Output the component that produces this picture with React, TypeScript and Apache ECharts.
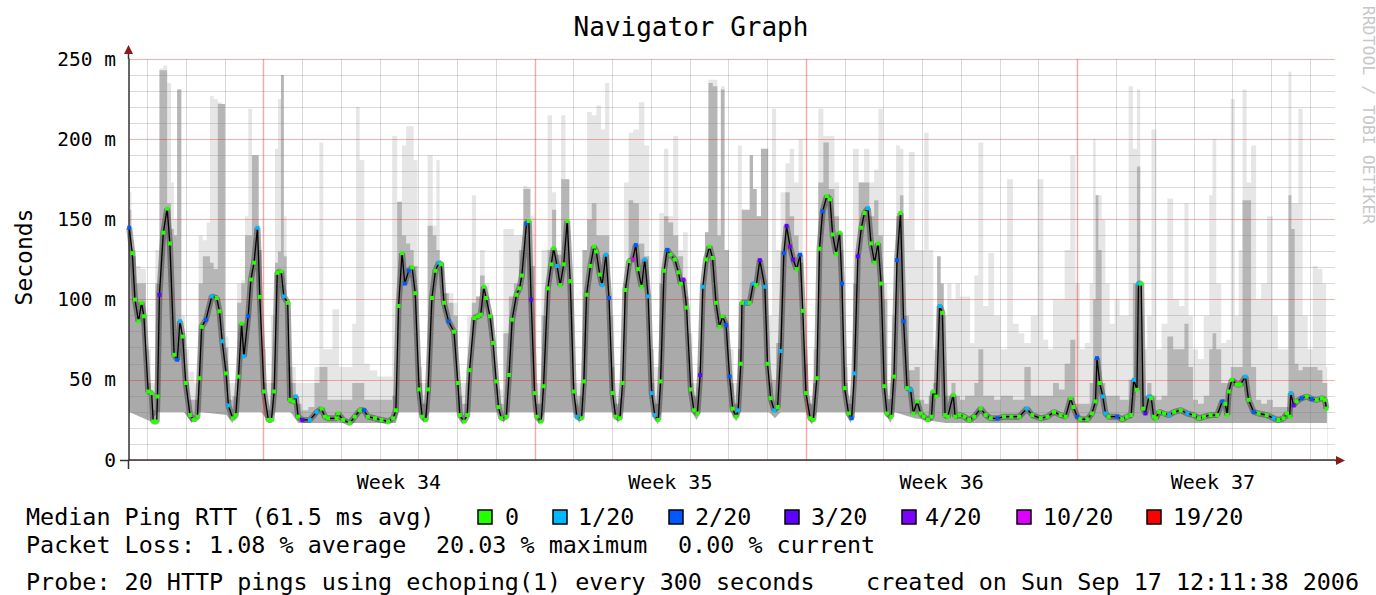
import React, { useEffect, useRef } from 'react';
import * as echarts from 'echarts';

// x = days since Monday 21 Aug 2006 00:00 (start of week 34); values in milliseconds
// median samples: [day, median RTT ms, lost pings of 20]
const median: number[][] = [
  [-3.46,144.8,2],[-3.38,129,0],[-3.31,100,0],[-3.22,86.5,0],[-3.14,98,0],[-3.08,89.6,0],[-2.97,42.7,0],[-2.88,41.7,0],[-2.84,24,0],[-2.75,24,0],[-2.73,39.6,0],[-2.68,103,3],[-2.58,141.7,0],[-2.48,156.7,0],[-2.41,135,0],[-2.30,65.6,0],[-2.22,62.5,2],[-2.15,86.5,1],[-2.08,77,0],[-2.00,48,0],[-1.89,28,0],[-1.79,25,0],[-1.70,27,0],[-1.65,51,0],[-1.59,83,0],[-1.48,87.5,2],[-1.33,102,1],[-1.20,101,0],[-1.13,92.7,0],[-1.06,74,1],[-0.96,54,0],[-0.90,34,1],[-0.79,26,0],[-0.71,28,0],[-0.64,52,0],[-0.56,85,0],[-0.50,64.6,1],[-0.39,89.6,2],[-0.32,112.5,0],[-0.24,123,0],[-0.15,144.8,1],[-0.09,101.7,0],[0.02,42.7,0],[0.13,25,0],[0.21,25,0],[0.28,42.7,0],[0.36,116.7,0],[0.46,117.7,0],[0.53,102,1],[0.63,98,0],[0.69,37.5,0],[0.77,36.5,0],[0.84,39.6,1],[0.90,27,0],[1.01,25,3],[1.20,25,1],[1.38,30,1],[1.50,32,0],
  [1.59,27,0],[1.67,26,0],[1.89,26,0],[1.93,29,0],[2.06,25,0],[2.23,23,0],[2.36,27,0],[2.49,31,0],[2.60,31,2],[2.70,27,0],[2.88,26,0],[3.05,25,0],[3.22,24,0],[3.35,26,0],[3.42,31,0],[3.49,96,0],[3.58,129,0],[3.65,110,2],[3.75,118,2],[3.84,120,0],[3.92,104,0],[4.02,44,0],[4.10,27,0],[4.19,25,0],[4.25,44,0],[4.35,101,0],[4.44,118,0],[4.53,123,1],[4.59,122,0],[4.66,98,0],[4.78,86.5,2],[4.92,80,0],[5.02,48,0],[5.07,28,0],[5.18,24,0],[5.26,28,0],[5.32,56,0],[5.44,88.5,0],[5.54,89.6,0],[5.61,90.6,0],[5.69,108,0],[5.75,101,0],[5.85,89.6,0],[5.93,73,0],[6.01,49,0],[6.07,33,0],[6.14,26,0],[6.27,27,0],[6.34,53,0],[6.42,87.5,0],[6.53,103,0],[6.61,107,0],[6.67,115,0],[6.79,147.5,2],[6.85,149,0],[6.91,100,3],
  [7.00,41.7,0],[7.06,27,0],[7.17,24,0],[7.23,46,0],[7.34,107,0],[7.43,122,0],[7.49,132,0],[7.58,121,1],[7.66,109,0],[7.75,122,0],[7.84,149,0],[7.92,111.5,0],[8.01,42.7,0],[8.09,27,1],[8.21,26,0],[8.27,49,0],[8.34,103,0],[8.44,121,0],[8.53,133,0],[8.59,130,0],[8.68,115.6,0],[8.74,109,1],[8.84,128,1],[8.92,101,2],[9.01,41.7,0],[9.09,27,0],[9.20,26,0],[9.27,48,0],[9.34,106,0],[9.44,124,0],[9.53,125,10],[9.61,134,2],[9.67,119,0],[9.76,108,0],[9.84,125,1],[9.93,102,1],[10.02,41.7,1],[10.10,28,1],[10.19,25,0],[10.25,49,0],[10.34,118,0],[10.42,131,2],[10.51,128,0],[10.62,125,0],[10.71,117,0],[10.77,110,0],[10.84,112.5,4],[10.92,95,0],[11.03,44,0],[11.11,31,0],[11.20,29,0],[11.27,53,3],[11.34,108,1],[11.42,125,0],[11.51,133,0],[11.59,126,0],[11.68,98,0],[11.77,83,0],[11.85,89.6,0],[11.94,84,2],[12.03,52,2],[12.11,32,0],[12.20,27,0],
  [12.25,31,1],[12.32,60,0],[12.35,98,0],[12.46,98,1],[12.55,98,0],[12.64,110,1],[12.72,109,0],[12.81,124.6,3],[12.94,108,1],[13.01,60,0],[13.09,38.5,0],[13.18,31,1],[13.27,33,0],[13.35,68,1],[13.43,129,2],[13.50,146,3],[13.59,133,4],[13.67,125,3],[13.76,119,0],[13.85,128,2],[13.92,93,0],[14.00,41.7,0],[14.11,26,0],[14.19,25,0],[14.28,51,0],[14.35,131.7,0],[14.43,155,2],[14.54,164.6,0],[14.62,162.5,0],[14.69,140.6,0],[14.78,128.5,0],[14.87,141.7,0],[14.93,110,2],[15.00,44.8,0],[15.10,29,0],[15.18,26,2],[15.25,54,1],[15.34,127,3],[15.43,144.8,0],[15.51,154,0],[15.60,157,1],[15.68,135,0],[15.77,123,0],[15.86,135,0],[15.94,110,0],[16.02,46,0],[16.09,29,0],[16.20,27,0],[16.27,52,0],[16.35,124.6,2],[16.44,154,0],[16.52,86.5,2],[16.61,44.8,0],[16.70,43.75,1],[16.77,29,0],[16.87,36.5,0],[16.96,29,0],[17.04,27,0],[17.15,25,0],[17.24,27,0],[17.28,42.7,0],[17.37,39.6,0],[17.45,96,1],[17.52,91.7,0],
  [17.59,28,0],[17.66,27,0],[17.80,40.6,0],[17.85,27,0],[17.96,28,0],[18.09,27,0],[18.21,25,0],[18.34,27,0],[18.51,32,0],[18.64,28,0],[18.77,26,0],[18.94,26,2],[19.11,27,0],[19.30,27,0],[19.50,27,0],[19.70,32,1],[19.84,28,0],[20.06,26,0],[20.23,27,0],[20.40,30,0],[20.57,28,0],[20.70,27,0],[20.83,38.5,0],[20.90,33,0],[21.00,27,2],[21.08,25.4,0],[21.26,25.4,0],[21.38,29,0],[21.47,36.5,0],[21.51,63.5,2],[21.58,48,0],[21.66,39.6,1],[21.73,29,1],[21.81,27,0],[22.03,27,2],[22.16,25.4,0],[22.28,27,0],[22.39,28,0],[22.46,50,1],[22.54,43.75,0],[22.58,110,1],[22.65,110,0],[22.70,32,0],[22.76,29,3],[22.85,39.6,1],[22.91,38.5,0],[22.97,27,0],
  [23.03,26,0],[23.11,30,0],[23.24,29,0],[23.37,28,1],[23.50,30,0],[23.67,31,0],[23.84,29,1],[24.01,28,0],[24.14,26,0],[24.27,27,0],[24.44,28,0],[24.61,28,0],[24.74,36.5,2],[24.82,35,0],[24.87,28,0],[24.91,42.7,0],[24.99,50,0],[25.12,47,0],[25.21,47,0],[25.34,52,1],[25.42,37.5,0],[25.55,30,2],[25.68,29,0],[25.89,28,0],[26.07,26,1],[26.19,25,0],[26.32,26,0],[26.41,29,0],[26.48,27,0],[26.51,41.7,1],[26.58,34,3],[26.66,36.5,0],[26.79,38.5,2],[26.92,39.6,0],[27.05,38,2],[27.18,37.5,0],[27.31,38.5,0],[27.39,37.5,0],[27.43,32,0]
];

// smoke samples: [day, highest ping ms, top of the dense smoke ms]
const smoke: number[][] = [
  [-3.457,167,156],[-3.353,131,127],[-3.224,121,110],[-3.095,119,110],[-2.966,69,48],[-2.837,48,31],[-2.734,131,110],[-2.623,244,243],[-2.537,246,243],[-2.425,235,160],[-2.339,173,144],[-2.279,150,140],[-2.167,231,231],[-2.064,90,79],[-1.978,69,48],[-1.849,55,37.5],[-1.72,48,37.5],[-1.617,140,110],[-1.505,137,127],[-1.419,148,127],[-1.333,227,123],[-1.23,225,119],[-1.118,223,222],[-1.032,222,222],[-0.946,77,70],[-0.86,48,37.5],[-0.731,48,39.6],[-0.619,110,98],[-0.516,112,110],[-0.43,152,140],[-0.344,219,140],[-0.241,190,190],[-0.155,190,190],[-0.086,131,131],[0,69,48],[0.129,48,31],[0.258,90,48],[0.344,194,123],[0.413,225,130],[0.499,240,240],[0.559,152,127],[0.645,69,58],[0.774,58,48],[0.903,48,35],[1.075,48,31],[1.247,48,33],[1.393,58,48],[1.505,198,58],[1.591,69,58],
  [1.72,69,37.5],[1.85,94,37.5],[2.06,58,37.5],[2.23,58,37.5],[2.36,85,48],[2.42,220,48],[2.55,187,48],[2.66,60,37.5],[2.83,56,37.5],[3.05,52,37.5],[3.26,52,37.5],[3.39,202,40],[3.52,161,161],[3.63,196,140],[3.74,208,135],[3.84,208,131],[3.92,187,121],[4.04,58,48],[4.16,48,35],[4.32,190,146],[4.42,146,140],[4.51,187,131],[4.59,123,123],[4.72,104,104],[4.85,104,98],[4.96,98,90],[5.07,48,40],[5.2,48,35],[5.32,90,48],[5.44,165,98],[5.54,102,102],[5.64,131,115],[5.78,110,102],[5.88,90,90],[5.99,48,45],[6.12,44,35],[6.27,144,79],[6.4,144,102],[6.53,140,110],[6.66,140,131],[6.76,171,169],[6.85,170,169],[6.93,152,121],
  [7.09,48,35],[7.26,131,90],[7.41,215,131],[7.49,167,156],[7.62,131,128],[7.75,215,175],[7.84,175,175],[7.95,110,100],[8.05,48,35],[8.18,48,40],[8.29,131,131],[8.42,217,150],[8.53,215,160],[8.66,221,140],[8.77,206,140],[8.87,235,140],[8.98,90,58],[9.13,48,35],[9.24,48,38],[9.37,173,110],[9.48,204,162],[9.61,206,160],[9.77,223,135],[9.89,196,127],[10.02,69,48],[10.15,58,35],[10.28,154,110],[10.39,194,152],[10.51,152,148],[10.64,202,140],[10.77,131,127],[10.89,142,102],[11.01,79,48],[11.14,48,40],[11.27,58,45],[11.35,110,110],[11.44,142,142],[11.53,237,235],[11.66,237,233],[11.77,150,140],[11.84,233,231],[11.96,131,131],[12.07,69,48],[12.2,48,35],
  [12.29,196,69],[12.4,156,156],[12.51,156,156],[12.59,190,190],[12.68,169,169],[12.78,152,152],[12.9,194,194],[12.98,194,194],[13.07,90,48],[13.18,219,50],[13.28,131,73],[13.41,167,130],[13.53,185,167],[13.63,194,152],[13.76,173,140],[13.86,200,123],[13.98,69,60],[14.11,40,35],[14.25,69,48],[14.39,219,173],[14.51,202,198],[14.67,202,169],[14.8,173,152],[14.91,142,131],[15.01,58,48],[15.14,40,35],[15.29,194,110],[15.43,173,173],[15.57,194,173],[15.7,173,152],[15.82,181,162],[15.92,219,140],[16.05,110,100],[16.15,48,38],[16.26,90,52],[16.39,196,152],[16.46,194,165],[16.57,150,90],[16.74,192,56],[16.87,131,58],[17.0,131,37.5],[17.1,204,35],[17.23,131,40],[17.34,69,48],[17.43,127,127],[17.52,110,110],
  [17.59,90,40],[17.7,110,40],[17.81,100,48],[17.91,110,40],[18.04,102,37.5],[18.17,102,40],[18.3,73,40],[18.39,115,48],[18.51,198,69],[18.64,96,40],[18.77,129,40],[18.94,90,37.5],[19.11,69,40],[19.27,175,40],[19.41,85,37.5],[19.56,79,37.5],[19.71,73,58],[19.89,90,40],[20.06,175,40],[20.19,75,40],[20.31,69,40],[20.44,100,48],[20.61,100,44],[20.74,131,60],[20.9,190,75],[21.0,110,35],[21.13,69,35],[21.26,73,35],[21.38,110,48],[21.44,200,100],[21.51,165,165],[21.58,165,131],[21.68,150,48],[21.77,110,40],[21.9,85,40],[22.03,100,40],[22.16,90,37.5],[22.28,90,37.5],[22.37,233,50],[22.5,194,110],[22.58,231,183],[22.67,90,48],[22.76,69,40],
  [22.85,90,48],[22.98,206,40],[23.11,69,37.5],[23.24,85,40],[23.41,163,77],[23.54,100,69],[23.71,96,69],[23.82,160,85],[23.92,90,58],[24.05,69,37.5],[24.18,63,35],[24.35,90,40],[24.46,165,69],[24.52,200,79],[24.65,110,69],[24.78,73,48],[24.91,75,48],[25.01,225,58],[25.12,90,58],[25.21,131,58],[25.32,231,162],[25.42,173,162],[25.55,196,58],[25.68,100,37.5],[25.81,110,35],[25.98,152,37.5],[26.11,90,33],[26.24,69,33],[26.41,69,33],[26.49,242,165],[26.56,160,144],[26.66,160,60],[26.75,219,56],[26.88,90,58],[27.01,69,58],[27.14,121,58],[27.26,119,56],[27.39,110,48],[27.45,58,48]
];

// lowest ping (bottom edge of the smoke): [day, ms]
const smokeFloor: number[][] = [
  [-3.46,30],[-2.9,24],[-2.72,30],[-2.05,30],[-1.85,23],[-1.64,30],[-0.95,28],[-0.8,23],[-0.63,30],[-0.05,30],[0.15,23],[0.3,30],[0.7,30],[0.9,23],[3.42,23],[3.5,30],[4.0,30],[4.15,23],[4.28,30],[5.0,30],[5.15,22],[5.3,30],[6.05,30],[6.2,23],[6.33,30],[6.98,30],[7.12,22],[7.25,30],[8.0,30],[8.15,23],[8.28,30],[9.0,30],[9.15,23],[9.28,30],[10.03,30],[10.18,22],[10.27,30],[11.05,30],[11.18,25],[11.28,30],[12.08,30],[12.2,24],[12.3,30],[13.05,30],[13.2,26],[13.35,30],[14.0,30],[14.15,22],[14.28,30],[15.02,30],[15.15,23],[15.26,30],[16.03,30],[16.18,23],[16.28,30],[16.8,26],[17.6,23],[27.45,23]
];

const dayLines = [-3,-2,-1,0,1,2,3,4,5,6,7,8,9,10,11,12,13,14,15,16,17,18,19,20,21,22,23,24,25,26,27];
const weekLines = [0,7,14,21];
const weekPos = [3.5,10.5,17.5,24.5];
const weekNames = ['Week 34','Week 35','Week 36','Week 37'];
const yMin = 0;
const yMax = 250;

const lossCodes = [0,1,2,3,4,10,19];
const lossColors = ['#26ff00','#00b8ff','#0059ff','#5e00ff','#7e00ff','#dd00ff','#ff0000'];
const lossLabels = ['0','1/20','2/20','3/20','4/20','10/20','19/20'];

const legendBoxX = [478,553,669,785,902,1017,1147];
const legendTextX = [505,578,695,811,925,1043,1173];

const MONO = '"DejaVu Sans Mono", monospace';

function gridLineSeries(name: string, days: number[], color: string, width: number) {
  return {
    type: 'custom', name, silent: true, z: 3, clip: true,
    encode: { x: 0, y: 1 },
    data: days.map((d) => [d, yMin]),
    renderItem: (params: any, api: any) => {
      const bottom = api.coord([api.value(0), yMin]);
      const top = api.coord([api.value(0), yMax]);
      const x = Math.round(bottom[0]) + 0.5;
      return {
        type: 'line',
        shape: { x1: x, y1: bottom[1], x2: x, y2: top[1] },
        style: { stroke: color, lineWidth: width },
      };
    },
  };
}

function buildOption() {
  const medPts = median.map((r) => [r[0], r[1]]);
  const medItems = median.map((r) => ({
    value: [r[0], r[1]],
    itemStyle: { color: lossColors[Math.max(0, lossCodes.indexOf(r[2]))] },
  }));
  const maxPts = smoke.map((r) => [r[0], r[1]]);
  const hiPts = smoke.map((r) => [r[0], r[2]]);
  const floorPts = smokeFloor.map((r) => [r[0], r[1]]);

  const areaSeries = (name: string, data: number[][], color: string, step: any) => ({
    type: 'line', name, data, step, symbol: 'none', silent: true, z: 2,
    lineStyle: { width: 0, opacity: 0 },
    areaStyle: { color, opacity: 1 },
  });

  const txt = (text: string, x: number, y: number, size: number, extra: any = {}) => ({
    type: 'text', x, y, silent: true,
    style: { text, fill: '#000', fontSize: size, fontFamily: MONO, align: 'left', verticalAlign: 'middle', ...extra },
  });

  const graphic: any[] = [
    txt('Navigator Graph', 691, 27, 26, { align: 'center' }),
    { type: 'text', x: 24, y: 257, rotation: Math.PI / 2, silent: true,
      style: { text: 'Seconds', fill: '#000', fontSize: 23, fontFamily: MONO, align: 'center', verticalAlign: 'middle' } },
    { type: 'text', x: 1368, y: 115, rotation: -Math.PI / 2, silent: true,
      style: { text: 'RRDTOOL / TOBI OETIKER', fill: '#c8c8c8', fontSize: 16.5, fontFamily: MONO, align: 'center', verticalAlign: 'middle' } },
    txt('Median Ping RTT (61.5 ms avg)', 26, 517, 23.4),
    txt('Packet Loss: 1.08 % average', 26, 545, 23.4),
    txt('20.03 % maximum', 436, 545, 23.4),
    txt('0.00 % current', 678, 545, 23.4),
    txt('Probe: 20 HTTP pings using echoping(1) every 300 seconds', 26, 582, 23.4),
    txt('created on Sun Sep 17 12:11:38 2006', 1359, 582, 23.4, { align: 'right' }),
    // axis extensions and arrow heads
    { type: 'line', silent: true, shape: { x1: 120, y1: 460.5, x2: 129, y2: 460.5 }, style: { stroke: '#333', lineWidth: 1.5 } },
    { type: 'line', silent: true, shape: { x1: 128.5, y1: 460, x2: 128.5, y2: 469 }, style: { stroke: '#333', lineWidth: 1.5 } },
    { type: 'line', silent: true, shape: { x1: 128.5, y1: 59, x2: 128.5, y2: 52 }, style: { stroke: '#333', lineWidth: 1.5 } },
    { type: 'polygon', silent: true, shape: { points: [[128.5, 45], [124, 54], [133, 54]] }, style: { fill: '#8b1a1a' } },
    { type: 'line', silent: true, shape: { x1: 1335, y1: 460.5, x2: 1337, y2: 460.5 }, style: { stroke: '#333', lineWidth: 1.5 } },
    { type: 'polygon', silent: true, shape: { points: [[1345, 460.5], [1336, 456], [1336, 465]] }, style: { fill: '#8b1a1a' } },
  ];
  lossLabels.forEach((lab, i) => {
    graphic.push({ type: 'rect', silent: true, shape: { x: legendBoxX[i], y: 510, width: 14, height: 14 },
      style: { fill: lossColors[i], stroke: '#000', lineWidth: 1.5 } });
    graphic.push(txt(lab, legendTextX[i], 517, 23.4));
  });

  return {
    animation: false,
    backgroundColor: '#ffffff',
    grid: { left: 129, right: 41, top: 59, bottom: 135, containLabel: false },
    xAxis: {
      type: 'value', min: -3.465, max: 27.65, z: 3,
      axisLine: { show: true, onZero: false, lineStyle: { color: '#333', width: 1.5 } },
      axisTick: { show: false },
      splitLine: { show: false },
      axisLabel: {
        customValues: weekPos,
        formatter: (v: number) => { const i = weekPos.indexOf(v); return i >= 0 ? weekNames[i] : ''; },
        fontSize: 20, fontFamily: MONO, color: '#000', margin: 12,
      },
    },
    yAxis: {
      type: 'value', min: yMin, max: yMax, interval: 50, z: 3,
      axisLine: { show: true, onZero: false, lineStyle: { color: '#333', width: 1.5 } },
      axisTick: { show: false },
      axisLabel: {
        formatter: (v: number) => (v === 0 ? '0' : `${v} m`),
        fontSize: 19.5, fontFamily: MONO, color: '#000', margin: 13,
      },
      splitLine: { show: true, lineStyle: { color: 'rgba(255,0,0,0.32)', width: 1 } },
      minorTick: { show: false, splitNumber: 5 },
      minorSplitLine: { show: true, lineStyle: { color: 'rgba(128,128,128,0.3)', width: 1 } },
    },
    series: [
      areaSeries('max', maxPts, '#e6e6e6', 'middle'),
      areaSeries('dense', hiPts, '#b6b6b6', 'middle'),
      areaSeries('below median', medPts, '#aaaaaa', false),
      areaSeries('floor', floorPts, '#ffffff', false),
      {
        type: 'line', name: 'halo', data: medPts, symbol: 'none', silent: true, z: 2,
        lineStyle: { color: 'rgba(40,40,40,0.42)', width: 6 },
      },
      gridLineSeries('day grid', dayLines.filter((d) => weekLines.indexOf(d) < 0), 'rgba(128,128,128,0.3)', 1),
      gridLineSeries('week grid', weekLines, 'rgba(255,40,40,0.42)', 1.4),
      {
        type: 'line', name: 'Median Ping RTT', data: medItems, z: 4, silent: true,
        symbol: 'rect', symbolSize: 4, showSymbol: true, showAllSymbol: true,
        lineStyle: { color: '#000', width: 1.3 },
      },
    ],
    graphic,
  };
}

export default function App() {
  const ref = useRef<HTMLDivElement>(null);
  useEffect(() => {
    const chart = echarts.init(ref.current!, null, { renderer: 'svg' });
    chart.setOption(buildOption() as any);
    return () => chart.dispose();
  }, []);
  return (
    <div
      ref={ref}
      style={{ position: 'fixed', left: 0, top: 0, width: 1376, height: 595, background: '#fff' }}
    />
  );
}
